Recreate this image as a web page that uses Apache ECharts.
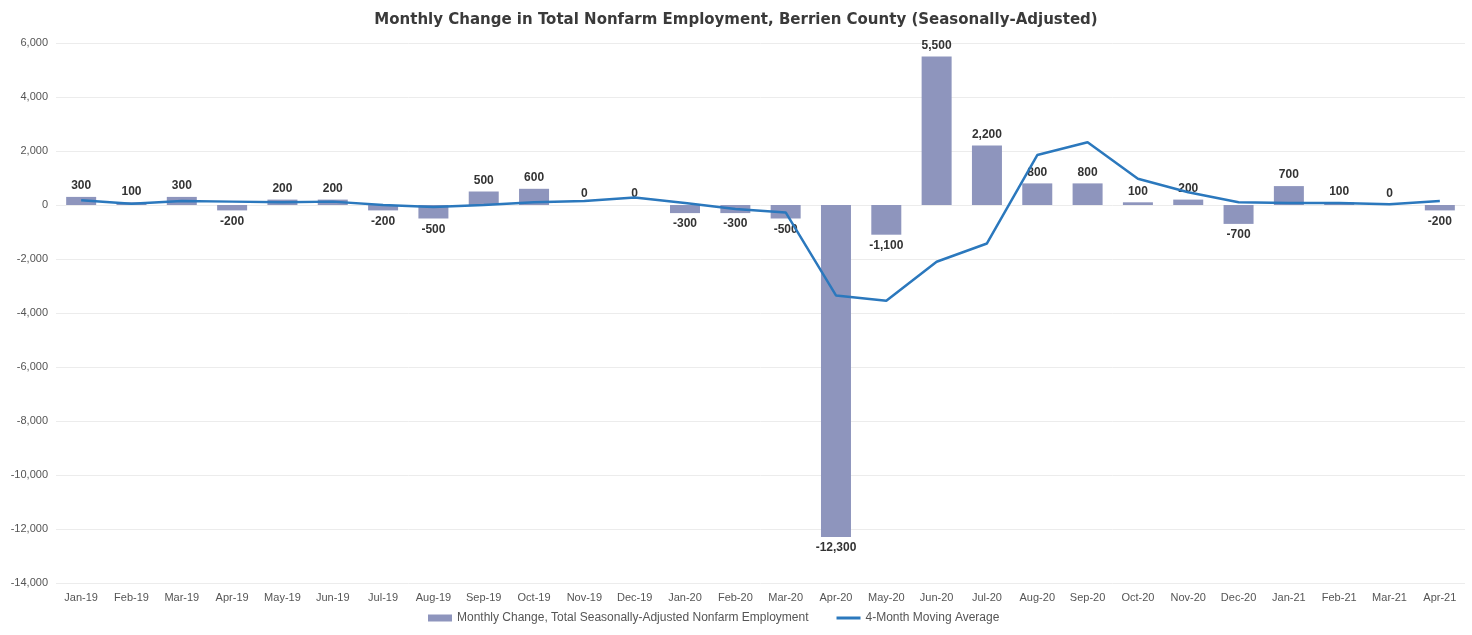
<!DOCTYPE html>
<html>
<head>
<meta charset="utf-8">
<script src="https://cdn.jsdelivr.net/npm/echarts@6/dist/echarts.min.js"></script>
<style>html,body{margin:0;padding:0;background:#fff;}#c{width:1472px;height:635px;}</style>
</head>
<body>
<div id="c"></div>
<script>
const categories = ['Jan-19','Feb-19','Mar-19','Apr-19','May-19','Jun-19','Jul-19','Aug-19','Sep-19','Oct-19','Nov-19','Dec-19',
  'Jan-20','Feb-20','Mar-20','Apr-20','May-20','Jun-20','Jul-20','Aug-20','Sep-20','Oct-20','Nov-20','Dec-20',
  'Jan-21','Feb-21','Mar-21','Apr-21'];
const monthlyChange = [300,100,300,-200,200,200,-200,-500,500,600,0,0,
  -300,-300,-500,-12300,-1100,5500,2200,800,800,100,200,-700,
  700,100,0,-200];
const movingAverage = [175,50,150,125,100,125,0,-75,0,100,150,275,
  75,-150,-275,-3350,-3550,-2100,-1425,1850,2325,975,475,100,
  75,75,25,150];
const yTicks = { min: -14000, max: 6000, interval: 2000 };

const fmt = v => {
  const n = Math.round(v);
  const s = Math.abs(n).toString().replace(/\B(?=(\d{3})+(?!\d))/g, ',');
  return (n < 0 ? '-' : '') + s;
};

const chart = echarts.init(document.getElementById('c'));
chart.setOption({
  animation: false,
  backgroundColor: '#ffffff',
  textStyle: { fontFamily: 'Liberation Sans, Arial, sans-serif' },
  title: {
    text: 'Monthly Change in Total Nonfarm Employment, Berrien County (Seasonally-Adjusted)',
    left: 'center', top: 8,
    textStyle: { fontSize: 15, fontWeight: 'bold', color: '#3a3a3a', fontFamily: 'DejaVu Sans, Arial, sans-serif' }
  },
  legend: {
    bottom: 6, left: 423,
    itemGap: 28, itemWidth: 24, itemHeight: 7,
    textStyle: { fontSize: 12, color: '#555' },
    data: [
      { name: 'Monthly Change, Total Seasonally-Adjusted Nonfarm Employment', icon: 'rect' },
      { name: '4-Month Moving Average', icon: 'path://M0,0 L24,0 L24,3 L0,3 Z' }
    ]
  },
  grid: { left: 56, right: 7, top: 43, bottom: 52, containLabel: false },
  xAxis: {
    type: 'category', data: categories,
    axisLine: { show: false, onZero: false },
    axisTick: { show: false },
    axisLabel: { fontSize: 11, color: '#555', margin: 9, interval: 0 }
  },
  yAxis: {
    type: 'value', min: yTicks.min, max: yTicks.max, interval: yTicks.interval,
    axisLine: { show: false }, axisTick: { show: false },
    axisLabel: { fontSize: 11, color: '#555', margin: 8, formatter: v => fmt(v) },
    splitLine: { lineStyle: { color: '#ececec', width: 1 } }
  },
  series: [
    {
      name: 'Monthly Change, Total Seasonally-Adjusted Nonfarm Employment',
      type: 'bar', barWidth: 30,
      data: monthlyChange.map(v => ({ value: v, label: { position: v < 0 ? 'bottom' : 'top' } })),
      itemStyle: { color: '#8e95bd' },
      label: {
        show: true, fontSize: 12, fontWeight: 'bold', color: '#333', distance: 5,
        formatter: p => fmt(p.value)
      }
    },
    {
      name: '4-Month Moving Average',
      type: 'line', data: movingAverage, symbol: 'none',
      lineStyle: { color: '#2b78bd', width: 2.5 },
      itemStyle: { color: '#2b78bd' },
      z: 3
    }
  ]
});
</script>
</body>
</html>
